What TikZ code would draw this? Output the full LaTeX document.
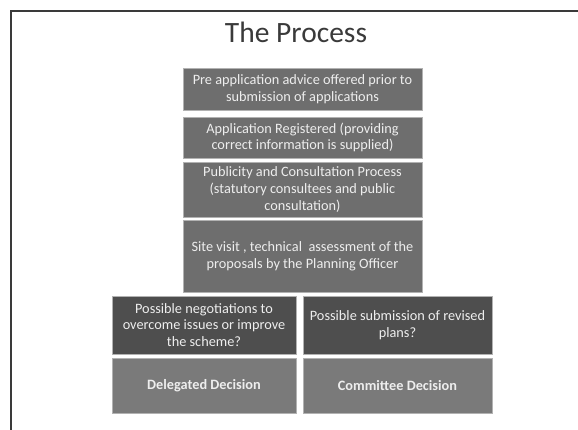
\documentclass[tikz,border=0pt]{standalone}
\usepackage{fontspec}
\setmainfont{Carlito}
\definecolor{slidegray}{HTML}{6E6E6E}
\definecolor{darkgray}{HTML}{4E4E4E}
\definecolor{lightgray}{HTML}{7A7A7A}
\definecolor{framegray}{HTML}{3A3A3A}
\definecolor{boxtext}{HTML}{EEEEEE}
\tikzset{stage/.style={rectangle, fill=slidegray, draw=gray!60, line width=0.6pt,
    text=boxtext, align=center, inner sep=1pt,
    font=\fontsize{14.3}{16.8}\selectfont},
  query/.style={stage, fill=darkgray},
  outcome/.style={stage, fill=lightgray, font=\fontsize{14.3}{16.8}\selectfont\bfseries}
}

\begin{document}
\begin{tikzpicture}[x=1pt, y=-1pt]
  \useasboundingbox (0,0) rectangle (578,430);
  % slide frame
  \draw[framegray, line width=2pt] (11,430) -- (11,11) -- (578,11);
  \node[text=framegray, font=\fontsize{29.5}{34}\selectfont] (title) at (296,32) {The Process};

  \node[stage, minimum width=239pt, minimum height=42pt] (preapp) at (302.5,89)
    {Pre application advice offered prior to\\submission of applications};
  \node[stage, minimum width=239pt, minimum height=41pt] (register) at (302.5,137.5)
    {Application Registered (providing\\correct information is supplied)};
  \node[stage, minimum width=239pt, minimum height=55pt] (publicity) at (302.5,189.5)
    {Publicity and Consultation Process\\(statutory consultees and public\\consultation)};
  \node[stage, minimum width=239pt, minimum height=72pt] (sitevisit) at (302.5,256)
    {Site visit , technical\ \ assessment of the\\proposals by the Planning Officer};

  \node[query, minimum width=184pt, minimum height=58pt] (negotiate) at (204,325)
    {Possible negotiations to\\overcome issues or improve\\the scheme?};
  \node[query, minimum width=189pt, minimum height=58pt] (revised) at (397.5,325)
    {Possible submission of revised\\plans?};

  \node[outcome, minimum width=184pt, minimum height=55pt] (delegated) at (204,385.5)
    {Delegated Decision};
  \node[outcome, minimum width=189pt, minimum height=55pt] (committee) at (397.5,385.5)
    {Committee Decision};
\end{tikzpicture}
\end{document}
